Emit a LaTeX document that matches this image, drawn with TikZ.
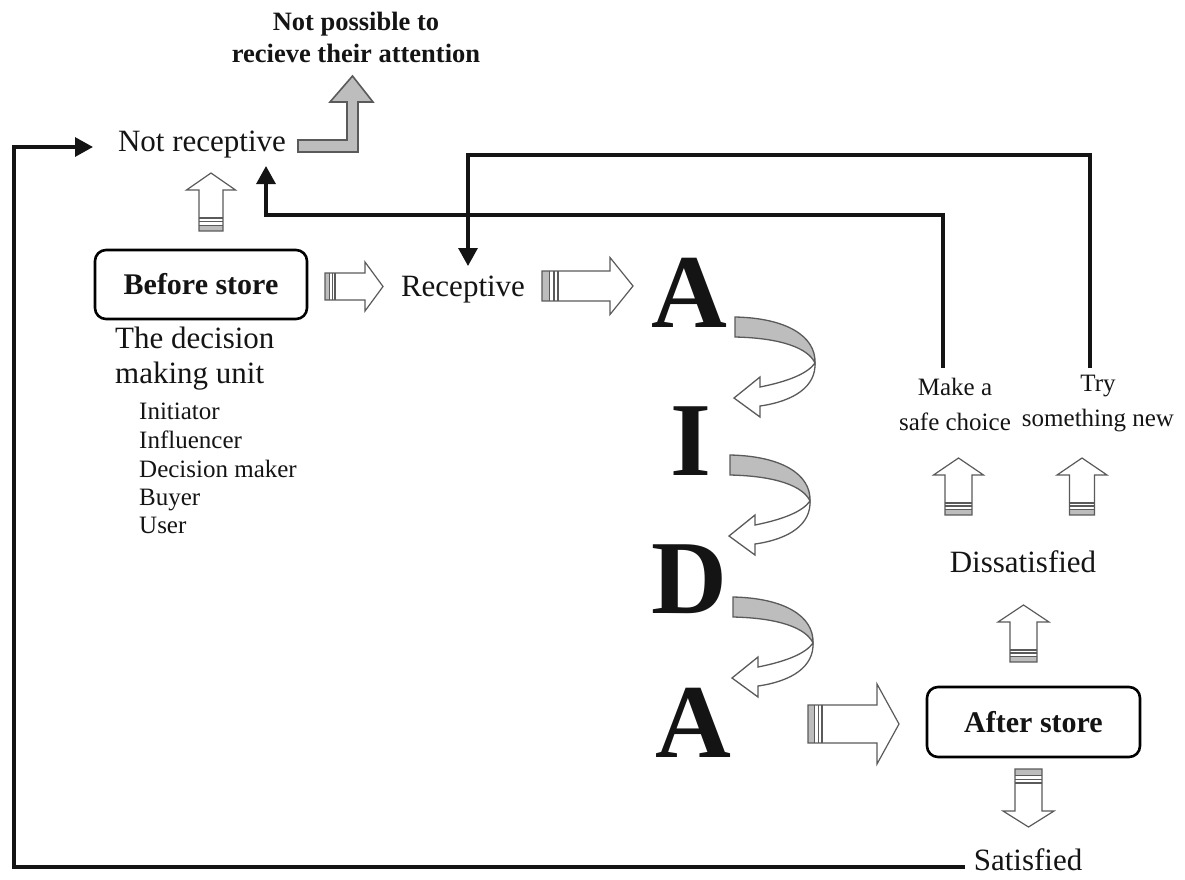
\documentclass[tikz,border=0pt]{standalone}
\usepackage{fontspec}
\setmainfont{Liberation Serif}
\usetikzlibrary{arrows.meta}
\definecolor{txt}{HTML}{141414}
\definecolor{outl}{HTML}{5A5A5A}
\definecolor{band}{HTML}{BDBDBD}
\newcommand\blkarrow[5]{%
  \fill[white] (0,-#4) -- ({#1-#2},-#4) -- ({#1-#2},-#3) -- (#1,0) -- ({#1-#2},#3) -- ({#1-#2},#4) -- (0,#4) -- cycle;
  \fill[band] (0,-#4) rectangle ({#5*0.45},#4);
  \draw[stripeline] ({#5*0.45},-#4) -- ({#5*0.45},#4);
  \draw[stripeline] ({#5*0.75},-#4) -- ({#5*0.75},#4);
  \draw[stripeline] (#5,-#4) -- (#5,#4);
  \draw[blkoutline] (0,-#4) -- ({#1-#2},-#4) -- ({#1-#2},-#3) -- (#1,0) -- ({#1-#2},#3) -- ({#1-#2},#4) -- (0,#4) -- cycle;
}
\newcommand\curvearrow{%
  \filldraw[bandshape] (735,317) .. controls (786,318) and (816,336) .. (815,363)
     .. controls (808,348) and (781,338) .. (735,337) -- cycle;
  \filldraw[whiteshape] (815,363) .. controls (816,386) and (795,401) .. (760,406)
     -- (760,417) -- (734,398) -- (760,377) -- (760,387)
     .. controls (790,381) and (808,373) .. (815,363) -- cycle;
}
\begin{document}
\begin{tikzpicture}[x=1pt,y=-1pt,
  every node/.style={text=txt, inner sep=0pt},
  reg/.style={font=\fontsize{31}{36}\selectfont},
  sm/.style={font=\fontsize{25}{35}\selectfont, align=center},
  lst/.style={font=\fontsize{25}{28}\selectfont, anchor=base west},
  boxlab/.style={draw=black, line width=2.6pt, rounded corners=11pt, font=\bfseries\fontsize{30}{34}\selectfont},
  big/.style={font=\bfseries\fontsize{105}{105}\selectfont, anchor=base},
  conn/.style={draw=txt, line width=3.2pt, -{Triangle[length=18pt,width=19pt]}},
  blkoutline/.style={draw=outl, line width=1.2pt, line join=miter},
  stripeline/.style={draw=outl, line width=1.1pt},
  bandshape/.style={fill=band, draw=outl, line width=1.3pt},
  whiteshape/.style={fill=white, draw=outl, line width=1.3pt},
  lshape/.style={fill=band, draw=outl, line width=1.6pt, line join=miter}
]
\useasboundingbox (0,0) rectangle (1185,879);

% texts
\node[font=\bfseries\fontsize{26.5}{32}\selectfont, align=center] (nopos) at (356,37) {Not possible to\\recieve their attention};
\node[reg] (notrec) at (202,145) {Not receptive};
\node[boxlab, minimum width=212pt, minimum height=69pt] (before) at (201,284.5) {Before store};
\node[reg] (rec) at (463,290) {Receptive};
\node[reg, anchor=base west] (dmu1) at (115,348) {The decision};
\node[reg, anchor=base west] (dmu2) at (115,383) {making unit};
\node[lst] (l1) at (139,419) {Initiator};
\node[lst] (l2) at (139,448) {Influencer};
\node[lst] (l3) at (139,477) {Decision maker};
\node[lst] (l4) at (139,505) {Buyer};
\node[lst] (l5) at (139,533) {User};

\node[big] (A1) at (689,327) {A};
\node[big] (I) at (691,475) {I};
\node[big] (D) at (689,613) {D};
\node[big] (A2) at (693,757) {A};

\node[sm] (make) at (955,404) {Make a\\safe choice};
\node[sm] (try) at (1098,404) {Try\\something new};
\node[reg] (dissat) at (1023,562) {Dissatisfied};
\node[boxlab, minimum width=213pt, minimum height=70pt] (after) at (1033.5,722) {After store};
\node[reg] (sat) at (1028,860) {Satisfied};

% gray L arrow
\filldraw[lshape] (298,140) -- (347,140) -- (347,102) -- (330,102) -- (352.5,76) -- (373,102) -- (358,102) -- (358,152) -- (298,152) -- cycle;

% block arrows
\begin{scope}[shift={(211,231)},rotate=90] \blkarrow{58}{17}{24.5}{12}{13} \end{scope}
\begin{scope}[shift={(958.5,515)},rotate=90] \blkarrow{57}{17}{25}{13.5}{12} \end{scope}
\begin{scope}[shift={(1082,515)},rotate=90] \blkarrow{57}{17}{25}{12.5}{12} \end{scope}
\begin{scope}[shift={(1023.5,662)},rotate=90] \blkarrow{57}{17}{25.5}{13.5}{12} \end{scope}
\begin{scope}[shift={(1028.5,769)},rotate=-90] \blkarrow{58}{16}{25.5}{13.5}{14} \end{scope}
\begin{scope}[shift={(325,286.5)}] \blkarrow{58}{18}{24.5}{13.5}{10} \end{scope}
\begin{scope}[shift={(542,286)}] \blkarrow{91}{23}{28.5}{15}{16} \end{scope}
\begin{scope}[shift={(808,724)}] \blkarrow{91}{22}{40}{19}{14} \end{scope}

% curved AIDA arrows
\curvearrow
\begin{scope}[shift={(-5,138)}] \curvearrow \end{scope}
\begin{scope}[shift={(-2,280)}] \curvearrow \end{scope}

% connectors
\coordinate (m0) at (943,368);
\coordinate (j2) at (266,215);
\coordinate (nrin) at (266,166);
\coordinate (t0) at (1090,368);
\coordinate (k2) at (468,155);
\coordinate (recin) at (468,266);
\coordinate (satend) at (965,867);
\coordinate (bl) at (14,867);
\coordinate (tl) at (14,147);
\coordinate (nrleft) at (93,147);
\draw[conn] (m0) |- (j2) -- (nrin);
\draw[conn] (t0) |- (k2) -- (recin);
\draw[conn] (satend) -- (bl) -- (tl) -- (nrleft);
\end{tikzpicture}
\end{document}
